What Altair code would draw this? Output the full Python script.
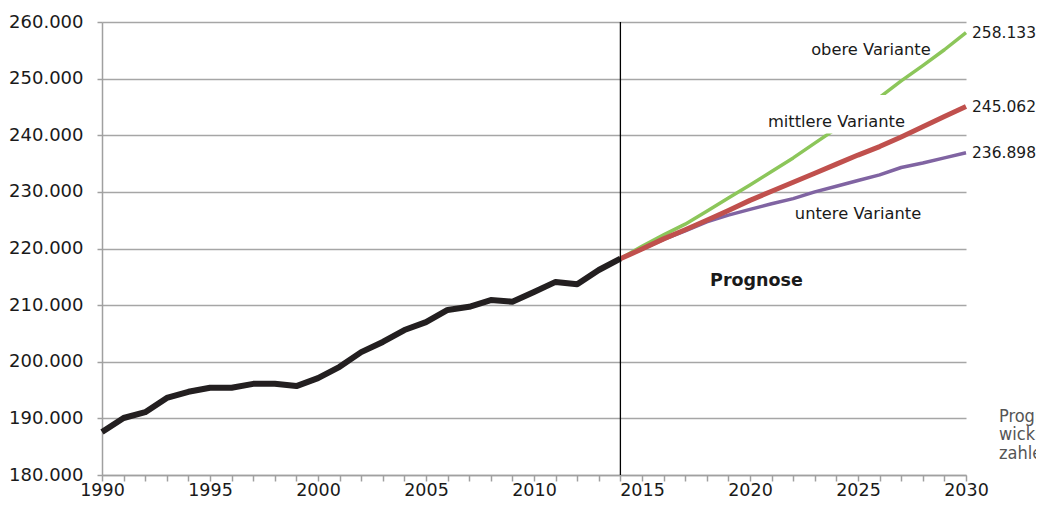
import altair as alt
import pandas as pd

# ---- data ----
hist_years = list(range(1990, 2015))
hist_values = [187600, 190070, 191100, 193600, 194700, 195400, 195400, 196100,
               196100, 195700, 197100, 199100, 201700, 203500, 205600, 207000,
               209150, 209700, 210900, 210600, 212300, 214100, 213700, 216200,
               218200]

fc_years = list(range(2014, 2031))
obere = [218200, 220400, 222400, 224300, 226600, 228900, 231200, 233600, 236000,
         238600, 241200, 243900, 246700, 249600, 252300, 255100, 258133]
mittlere = [218200, 219900, 221700, 223300, 225000, 226700, 228500, 230100, 231700,
            233300, 234900, 236500, 238000, 239700, 241500, 243300, 245062]
untere = [218200, 219900, 221600, 223100, 224700, 225900, 226900, 227900, 228800,
          230000, 231000, 232000, 233000, 234300, 235100, 236000, 236898]

end_labels = ["258.133", "245.062", "236.898"]
end_values = [258133, 245062, 236898]

hist_df = pd.DataFrame({"year": hist_years, "value": hist_values})
obere_df = pd.DataFrame({"year": fc_years, "value": obere})
mittlere_df = pd.DataFrame({"year": fc_years, "value": mittlere})
untere_df = pd.DataFrame({"year": fc_years, "value": untere})
end_df = pd.DataFrame({"year": [2030] * 3, "value": end_values, "t": end_labels})

FONT = "DejaVu Sans"

xscale = alt.Scale(domain=[1990, 2030], nice=False, zero=False)
yscale = alt.Scale(domain=[180000, 260000], nice=False, zero=False)

xaxis = alt.Axis(
    title=None, values=list(range(1990, 2031)), grid=False,
    labelExpr="datum.value % 5 == 0 ? toString(datum.value) : ''",
    tickSize=6, labelPadding=0, labelFlush=False, labelOverlap=False,
    labelFontSize=17.5,
)
yaxis = alt.Axis(
    title=None, values=list(range(180000, 260001, 10000)), grid=True,
    labelExpr="replace(format(datum.value, ','), ',', '.')",
    tickSize=5, labelPadding=14, labelFontSize=18,
)


def X(field="year"):
    return alt.X(f"{field}:Q", scale=xscale, axis=xaxis)


def Y(field="value"):
    return alt.Y(f"{field}:Q", scale=yscale, axis=yaxis)


def line(df, color, width):
    return alt.Chart(df).mark_line(color=color, strokeWidth=width,
                                   strokeJoin="round", strokeCap="butt").encode(
        x=X(), y=Y())


green = line(obere_df, "#8cc65a", 3.5)
red = line(mittlere_df, "#c0504d", 5)
purple = line(untere_df, "#8064a2", 3.5)
black = line(hist_df, "#231f20", 6)

box_df = pd.DataFrame({"x0": [2020.0], "x1": [2027.3], "y0": [240300], "y1": [247100]})
box = alt.Chart(box_df).mark_rect(color="white").encode(
    x=X("x0"), x2="x1:Q", y=Y("y0"), y2="y1:Q")


def label(text, xv, yv, bold=False, size=16.3):
    df = pd.DataFrame({"year": [xv], "value": [yv], "t": [text]})
    return alt.Chart(df).mark_text(
        font=FONT, fontSize=size, color="#1a1a1a", align="center",
        baseline="middle", fontWeight="bold" if bold else "normal",
    ).encode(x=X(), y=Y(), text="t:N")


t_obere = label("obere Variante", 2025.6, 255100)
t_mittl = label("mittlere Variante", 2024.0, 242400)
t_unter = label("untere Variante", 2025.0, 226100)
t_prog = label("Prognose", 2020.3, 214300, bold=True, size=17.5)

ends = alt.Chart(end_df).mark_text(
    font=FONT, fontSize=15.5, color="#1a1a1a", align="left", baseline="middle", dx=6,
).encode(x=X(), y=Y(), text="t:N")

side_df = pd.DataFrame({"year": [2030], "value": [191900], "t": ["Progn\nwickl\nzahle"]})
side = alt.Chart(side_df).mark_text(
    font="DejaVu Sans Condensed", fontSize=18, color="#555555", align="left",
    baseline="top", lineBreak="\n", lineHeight=18.5, dx=33,
).encode(x=X(), y=Y(), text="t:N")

vline_df = pd.DataFrame({"year": [2014]})
vline = alt.Chart(vline_df).mark_rule(color="#000000", strokeWidth=1.3).encode(x=X())

chart = alt.layer(
    green, box, t_obere, t_mittl, t_unter, t_prog, purple, red, black, vline, ends, side
).properties(
    width=864, height=453,
    autosize=alt.AutoSizeParams(type="none"),
    padding={"left": 94, "top": 14, "right": 70, "bottom": 23},
).configure_view(strokeWidth=0).configure_axis(
    labelFont=FONT, labelColor="#1a1a1a",
    domainColor="#a0a0a0", domainWidth=1.5, tickColor="#a0a0a0", tickWidth=1.5,
    gridColor="#a6a6a6", gridWidth=1.4,
)

chart.save("out.html", embed_options={"renderer": "svg", "actions": False})
